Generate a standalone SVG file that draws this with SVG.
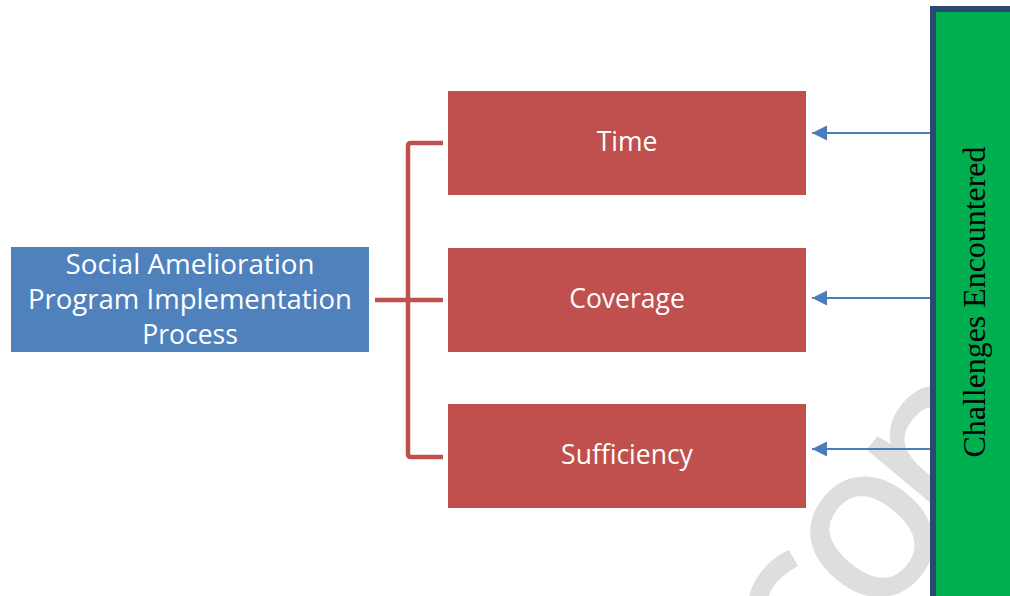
<svg xmlns="http://www.w3.org/2000/svg" width="1010" height="596" viewBox="0 0 1010 596">
  <style>
    .lbl { font-family: "Open Sans", "Liberation Sans", sans-serif; font-size: 26.5px; fill: #ffffff; text-anchor: middle; }
    .red { fill: #C0504D; }
    .bracket { fill: none; stroke: #C0504D; stroke-width: 4.5; stroke-linejoin: round; stroke-linecap: butt; }
    .arrow { fill: none; stroke: #4A7EBB; stroke-width: 2; marker-end: url(#head); }
    .wm { font-family: "Open Sans", "Liberation Sans", sans-serif; font-size: 220px; fill: #dedede; stroke: #dedede; stroke-width: 3; }
  </style>
  <defs>
    <marker id="head" markerUnits="userSpaceOnUse" markerWidth="16" markerHeight="16" refX="15" refY="7.5" orient="auto">
      <path d="M0,0 L15,7.5 L0,15 Z" fill="#4A7EBB"/>
    </marker>
  </defs>

  <rect width="1010" height="596" fill="#ffffff"/>

  <!-- background watermark -->
  <g id="watermark">
    <text class="wm" transform="translate(812,700) rotate(-50)"><tspan>c</tspan><tspan dx="-8">o</tspan><tspan dx="-20">n</tspan></text>
  </g>

  <g id="process">
    <rect x="11" y="247" width="358" height="105" fill="#4F81BD"/>
    <text class="lbl" font-size="27" x="190" y="274" textLength="249" lengthAdjust="spacingAndGlyphs">Social Amelioration</text>
    <text class="lbl" font-size="27" x="190" y="309" textLength="324" lengthAdjust="spacingAndGlyphs">Program Implementation</text>
    <text class="lbl" font-size="27" x="190" y="344">Process</text>
  </g>

  <g id="time">
    <rect class="red" x="448" y="91" width="358" height="104"/>
    <text class="lbl" x="627" y="151">Time</text>
  </g>
  <g id="coverage">
    <rect class="red" x="448" y="248" width="358" height="104"/>
    <text class="lbl" x="627" y="308">Coverage</text>
  </g>
  <g id="sufficiency">
    <rect class="red" x="448" y="404" width="358" height="104"/>
    <text class="lbl" x="627" y="464">Sufficiency</text>
  </g>

  <g id="connectors">
    <path class="bracket" d="M443,143 H411 Q408,143 408,146 V454 Q408,457 411,457 H443"/>
    <path class="bracket" d="M375,300 H443"/>
    <line class="arrow" x1="933" y1="133" x2="812" y2="133"/>
    <line class="arrow" x1="933" y1="298" x2="812" y2="298"/>
    <line class="arrow" x1="933" y1="449" x2="812" y2="449"/>
  </g>

  <g id="challenges">
    <rect x="933" y="9" width="90" height="600" fill="#00B050" stroke="#2C4770" stroke-width="6"/>
    <text x="985" y="302" transform="rotate(-90 985 302)" text-anchor="middle" font-family="'Liberation Serif', 'Times New Roman', serif" font-size="31" fill="#000000" textLength="311" lengthAdjust="spacingAndGlyphs">Challenges Encountered</text>
  </g>
</svg>
